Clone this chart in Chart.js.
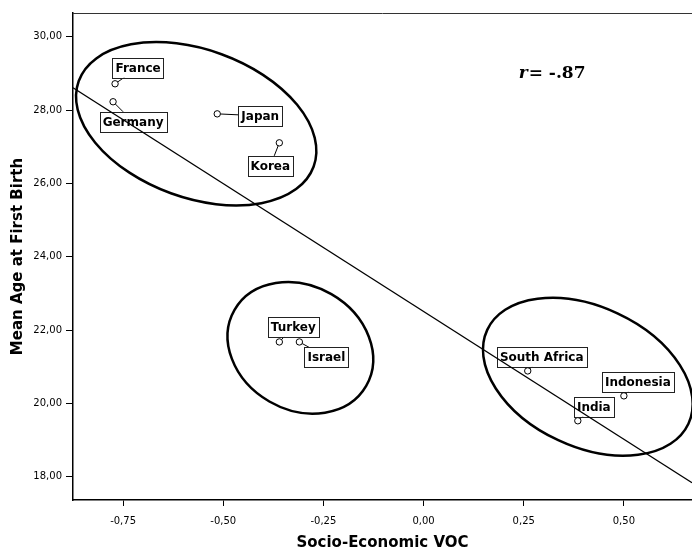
<!DOCTYPE html>
<html>
<head>
<meta charset="utf-8">
<script src="https://cdn.jsdelivr.net/npm/chart.js@4"></script>
<style>
  html, body { margin: 0; padding: 0; background: #fff; overflow: hidden; }
  #wrap { width: 697px; height: 549px; }
</style>
</head>
<body>
<div id="wrap"><canvas id="chartVoc"></canvas></div>
<script>
// values
const countries = ['France', 'Germany', 'Japan', 'Korea', 'Turkey', 'Israel', 'South Africa', 'Indonesia', 'India'];
const vocScores = [-0.77, -0.775, -0.515, -0.36, -0.36, -0.31, 0.26, 0.50, 0.385];
const ageFirstBirth = [28.72, 28.23, 27.90, 27.11, 21.68, 21.68, 20.89, 20.21, 19.53];

// fit line end points
const fitX = [-0.875, 0.67];
const fitY = [28.61, 17.84];

const xTicks = [-0.75, -0.5, -0.25, 0, 0.25, 0.5];
const yTicks = [18, 20, 22, 24, 26, 28, 30];

// label placement (pixel offset from the point to the label centre)
const labelOffsets = [[23, -16], [20, 20], [43, 2], [-9, 23], [14, -15], [27, 15], [14, -14], [14, -14], [16, -14]];

// group ellipses: centre in data units, radii in px, rotation in degrees
const clusters = [
  { x: -0.5675, y: 27.63, rx: 125, ry: 74, rot: 20 },
  { x: -0.3075, y: 21.52, rx: 76, ry: 62, rot: 30 },
  { x: 0.41, y: 20.73, rx: 111, ry: 70, rot: 25 }
];

const fmt = v => Number(v).toFixed(2).replace('.', ',');

const labelPlugin = {
  id: 'countryLabels',
  beforeDatasetsDraw(chart) {
    const ctx = chart.ctx;
    const xs = chart.scales.x, ys = chart.scales.y;
    ctx.save();
    ctx.font = 'bold 12px "DejaVu Sans"';
    ctx.textAlign = 'center';
    ctx.textBaseline = 'middle';
    countries.forEach((name, i) => {
      const px = xs.getPixelForValue(vocScores[i]);
      const py = ys.getPixelForValue(ageFirstBirth[i]);
      const cx = px + labelOffsets[i][0];
      const cy = py + labelOffsets[i][1];
      const w = ctx.measureText(name).width + 6;
      const h = 20;
      // leader line
      ctx.strokeStyle = '#000';
      ctx.lineWidth = 1;
      ctx.beginPath();
      ctx.moveTo(px, py);
      ctx.lineTo(cx, cy);
      ctx.stroke();
      ctx.fillStyle = '#fff';
      ctx.fillRect(cx - w / 2, cy - h / 2, w, h);
      ctx.strokeStyle = '#222';
      ctx.strokeRect(Math.round(cx - w / 2) + 0.5, Math.round(cy - h / 2) + 0.5, Math.round(w), h);
      ctx.fillStyle = '#000';
      ctx.fillText(name, cx, cy + 1);
    });
    ctx.restore();
  },
  afterDraw(chart) {
    const ctx = chart.ctx;
    const area = chart.chartArea;
    const xs = chart.scales.x, ys = chart.scales.y;
    ctx.save();
    // top frame line
    ctx.strokeStyle = '#333';
    ctx.lineWidth = 1;
    ctx.beginPath();
    ctx.moveTo(area.left, area.top + 0.5);
    ctx.lineTo(area.right, area.top + 0.5);
    ctx.stroke();
    // cluster ellipses
    ctx.strokeStyle = '#000';
    ctx.lineWidth = 2.5;
    clusters.forEach(c => {
      ctx.beginPath();
      ctx.ellipse(xs.getPixelForValue(c.x), ys.getPixelForValue(c.y), c.rx, c.ry, c.rot * Math.PI / 180, 0, Math.PI * 2);
      ctx.stroke();
    });
    // correlation note
    const tx = xs.getPixelForValue(0.2375);
    const ty = ys.getPixelForValue(28.99);
    ctx.fillStyle = '#000';
    ctx.textBaseline = 'middle';
    ctx.textAlign = 'left';
    ctx.font = 'bold italic 17px "DejaVu Serif"';
    ctx.fillText('r', tx, ty);
    const rw = ctx.measureText('r').width;
    ctx.font = 'bold 17px "DejaVu Serif"';
    ctx.fillText('= -.87', tx + rw + 1, ty);
    ctx.restore();
  }
};

const ctxVoc = document.getElementById('chartVoc').getContext('2d');

new Chart(ctxVoc, {
  type: 'scatter',
  data: {
    datasets: [{
      label: 'Countries',
      data: countries.map((c, i) => ({ x: vocScores[i], y: ageFirstBirth[i] })),
      pointRadius: 3.2,
      pointBorderWidth: 1,
      pointBackgroundColor: '#fff',
      pointBorderColor: '#000',
      order: 1
    }, {
      label: 'Fit',
      type: 'line',
      data: fitX.map((x, i) => ({ x: x, y: fitY[i] })),
      borderColor: '#000',
      borderWidth: 1.3,
      pointRadius: 0,
      fill: false,
      order: 2
    }]
  },
  options: {
    responsive: true,
    maintainAspectRatio: false,
    animation: false,
    layout: { padding: { top: 13, right: 0, left: 0, bottom: 0 } },
    plugins: { legend: { display: false }, tooltip: { enabled: false } },
    scales: {
      x: {
        type: 'linear',
        min: -0.875,
        max: 0.67,
        afterBuildTicks: s => { s.ticks = xTicks.map(v => ({ value: v })); },
        afterFit: s => { s.height = 49; },
        ticks: {
          callback: v => fmt(v),
          font: { family: 'DejaVu Sans', size: 10 },
          color: '#000',
          padding: 9,
          maxRotation: 0
        },
        grid: { drawOnChartArea: false, drawTicks: true, tickLength: 6, color: '#000' },
        border: { color: '#000', width: 1.5 },
        title: {
          display: true,
          text: 'Socio-Economic VOC',
          color: '#000',
          font: { family: 'DejaVu Sans', size: 15, weight: 'bold' },
          padding: { top: 0, bottom: -3 }
        }
      },
      y: {
        type: 'linear',
        min: 17.37,
        max: 30.65,
        afterBuildTicks: s => { s.ticks = yTicks.map(v => ({ value: v })); },
        afterFit: s => { s.width = 73; },
        ticks: {
          callback: v => fmt(v),
          font: { family: 'DejaVu Sans', size: 10 },
          color: '#000',
          padding: 4
        },
        grid: { drawOnChartArea: false, drawTicks: true, tickLength: 7, color: '#000' },
        border: { color: '#000', width: 1.5 },
        title: {
          display: true,
          text: 'Mean Age at First Birth',
          color: '#000',
          font: { family: 'DejaVu Sans', size: 15, weight: 'bold' },
          padding: { top: 9, bottom: 0 }
        }
      }
    }
  },
  plugins: [labelPlugin]
});
</script>
</body>
</html>
